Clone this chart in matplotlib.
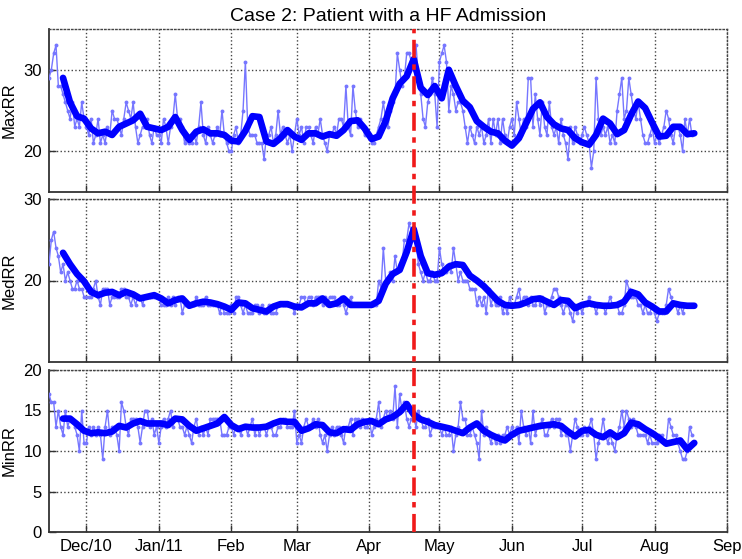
import matplotlib
matplotlib.use("Agg")
import matplotlib.pyplot as plt
import matplotlib.transforms as mtransforms
from matplotlib.lines import Line2D
import matplotlib.dates as mdates
import pandas as pd

plt.rcParams["font.family"] = ["Liberation Sans", "DejaVu Sans"]

TITLE = "Case 2: Patient with a HF Admission"
RAW_START = "2010-11-15"      # daily readings
SMOOTH_START = "2010-11-21"   # smoothed trend, every 3 days
EVENT_DATE = "2011-04-20"     # HF admission
XMIN, XMAX = "2010-11-15", "2011-09-01"

month_ticks = ["2010-12-01", "2011-01-01", "2011-02-01", "2011-03-01", "2011-04-01",
               "2011-05-01", "2011-06-01", "2011-07-01", "2011-08-01", "2011-09-01"]
month_labels = ["Dec/10", "Jan/11", "Feb", "Mar", "Apr", "May", "Jun", "Jul", "Aug", "Sep"]

maxrr_raw = [
    29, 30, 32, 33, 28, 28, 27, 26, 25, 24, 26, 23, 24, 23, 26, 24,                        # Nov
    23, 22, 24, 21, 22, 24, 21, 22, 21, 23, 22, 25, 24, 24, 23, 22, 24, 26, 25, 24,
    26, 23, 21, 22, 23, 23, 24, 22, 21, 23, 22,                                            # Dec
    22, 21, 24, 23, 21, 23, 24, 27, 24, 24, 23, 21, 22, 21, 21, 22, 21, 23, 26, 22,
    21, 23, 22, 21, 22, 23, 22, 25, 22, 21, 20,                                            # Jan
    20, 22, 23, 21, 22, 25, 31, 23, 22, 22, 22, 21, 21, 21, 19, 22, 22, 23, 21, 22,
    25, 22, 23, 22, 21, 22, 20, 22,                                                        # Feb
    24, 22, 23, 21, 23, 23, 22, 21, 23, 22, 24, 22, 21, 20, 22, 22, 23, 22, 24, 24,
    23, 28, 23, 22, 28, 25, 23, 24, 23, 22, 22,                                            # Mar
    22, 21, 21, 22, 23, 24, 26, 24, 23, 25, 26, 27, 32, 30, 28, 29, 32, 32, 31, 30,
    33, 29, 27, 24, 23, 26, 27, 29, 27, 23,                                                # Apr
    31, 32, 33, 31, 25, 28, 27, 25, 26, 26, 25, 23, 21, 23, 22, 21, 23, 22, 23, 21,
    22, 24, 21, 24, 22, 24, 21, 24, 22, 21, 23,                                            # May
    24, 22, 26, 24, 22, 24, 23, 29, 29, 23, 27, 24, 22, 26, 23, 22, 26, 23, 22, 23,
    21, 24, 22, 21, 19, 23, 21, 23, 22, 21,                                                # Jun
    22, 23, 22, 21, 18, 20, 29, 24, 22, 23, 22, 23, 21, 22, 21, 25, 27, 29, 24, 25,
    29, 27, 25, 24, 26, 24, 22, 21, 21, 22, 23,                                            # Jul
    21, 22, 21, 22, 23, 25, 24, 22, 21, 23, 23, 22, 20, 24, 22, 24, 22,                    # Aug
]
maxrr_smooth = [
    29.0, 26.0, 24.3, 24.0, 22.8, 22.2, 22.4, 22.0, 23.0, 23.4, 23.8, 24.6, 23.0, 22.8,
    22.6, 23.0, 24.2, 22.6, 21.4, 22.4, 22.7, 22.2, 22.2, 22.0, 21.3, 21.2, 22.5, 24.3,
    24.2, 21.2, 20.9, 21.6, 22.6, 21.8, 21.4, 22.2, 22.2, 21.8, 22.1, 21.9, 22.6, 23.7,
    23.8, 22.8, 21.5, 21.8, 23.7, 26.5, 28.3, 29.2, 31.3, 27.8, 26.9, 28.0, 26.5, 30.0,
    28.0, 26.2, 25.4, 23.7, 23.0, 22.4, 22.2, 21.3, 20.7, 21.6, 23.4, 25.2, 26.0, 24.2,
    23.3, 22.8, 22.6, 21.6, 21.1, 20.8, 22.0, 24.0, 23.4, 22.1, 22.6, 24.5, 26.1, 25.3,
    23.5, 21.8, 21.9, 23.0, 23.0, 22.1, 22.2,
]

medrr_raw = [
    22, 25, 26, 24, 23, 21, 22, 20, 21, 20, 19, 19, 20, 19, 19, 18,                        # Nov
    18, 18, 18, 19, 20, 18, 17, 19, 19, 19, 17, 18, 18, 18, 18, 19, 19, 18, 18, 17,
    18, 17, 18, 18, 17, 18, 18, 18, 18, 18, 18,                                            # Dec
    18, 17, 17, 17, 18, 17, 18, 17, 18, 18, 16, 17, 17, 17, 17, 17, 18, 17, 17, 17,
    18, 17, 17, 17, 17, 17, 16, 17, 16, 16, 16,                                            # Jan
    17, 16, 18, 18, 17, 16, 17, 16, 16, 16, 17, 17, 16, 17, 16, 16, 17, 16, 16, 16,
    17, 17, 17, 17, 17, 17, 17, 16,                                                        # Feb
    17, 17, 18, 18, 17, 18, 18, 17, 18, 18, 18, 17, 18, 17, 18, 18, 18, 17, 17, 18,
    17, 16, 17, 18, 17, 17, 17, 17, 17, 17, 17,                                            # Mar
    17, 17, 17, 17, 20, 19, 24, 20, 20, 21, 20, 23, 21, 22, 22, 25, 25, 27, 26, 26,
    25, 22, 21, 20, 21, 20, 20, 21, 20, 20,                                                # Apr
    24, 22, 21, 21, 22, 21, 24, 22, 20, 21, 20, 20, 20, 19, 19, 19, 17, 18, 17, 18,
    16, 19, 17, 18, 17, 17, 18, 16, 17, 16, 18,                                            # May
    17, 17, 18, 19, 17, 18, 18, 17, 18, 17, 17, 18, 17, 18, 16, 17, 17, 18, 19, 19,
    18, 17, 16, 17, 17, 16, 15, 17, 16, 17,                                                # Jun
    16, 17, 17, 18, 17, 17, 16, 17, 17, 17, 16, 17, 18, 17, 17, 17, 16, 16, 17, 20,
    19, 18, 18, 18, 17, 17, 16, 17, 16, 16, 17,                                            # Jul
    16, 15, 16, 16, 16, 17, 19, 18, 17, 17, 16, 17, 16, 17, 17, 17, 17,                    # Aug
]
medrr_smooth = [
    23.4, 22.0, 20.8, 19.9, 18.6, 18.2, 18.5, 18.6, 18.2, 18.6, 18.3, 17.8, 18.0, 18.2,
    17.8, 17.2, 17.6, 17.8, 16.9, 17.2, 17.4, 17.3, 17.1, 16.8, 16.4, 17.3, 17.2, 16.6,
    16.4, 16.2, 16.8, 17.1, 17.1, 16.8, 16.7, 17.2, 17.2, 17.8, 17.0, 17.2, 17.8, 17.0,
    17.0, 17.0, 17.0, 17.5, 19.6, 20.8, 21.3, 23.5, 26.3, 23.0, 20.9, 20.7, 20.9, 21.7,
    22.0, 21.9, 20.6, 20.0, 19.3, 18.4, 17.5, 17.0, 16.9, 17.0, 17.3, 17.7, 17.8, 17.4,
    17.0, 17.6, 17.5, 16.6, 17.0, 17.2, 17.0, 16.9, 16.9, 17.0, 17.4, 18.6, 18.3, 17.3,
    16.8, 16.2, 16.2, 17.2, 17.0, 16.9, 16.9,
]

minrr_raw = [
    17, 16, 16, 13, 15, 13, 12, 15, 13, 14, 14, 13, 12, 10, 15, 11,                        # Nov
    11, 13, 12, 13, 12, 13, 12, 9, 13, 15, 12, 13, 13, 12, 10, 16, 15, 13, 12, 14,
    14, 14, 13, 11, 13, 15, 15, 13, 14, 12, 13,                                            # Dec
    11, 13, 14, 13, 14, 15, 13, 14, 14, 13, 13, 12, 13, 12, 11, 13, 14, 12, 13, 12,
    13, 12, 14, 14, 14, 14, 14, 12, 12, 12, 13,                                            # Jan
    13, 12, 13, 13, 12, 13, 13, 12, 13, 14, 12, 13, 12, 13, 13, 12, 13, 13, 12, 12,
    13, 13, 14, 14, 13, 13, 13, 15,                                                        # Feb
    11, 12, 11, 13, 14, 13, 13, 14, 13, 14, 12, 11, 12, 10, 12, 13, 12, 13, 13, 12,
    11, 13, 13, 14, 12, 14, 14, 13, 14, 13, 13,                                            # Mar
    14, 12, 13, 14, 16, 13, 14, 15, 14, 15, 14, 18, 13, 17, 15, 16, 14, 13, 14, 14,
    13, 15, 14, 13, 13, 14, 12, 13, 13, 13,                                                # Apr
    13, 12, 13, 12, 12, 13, 10, 12, 13, 16, 14, 14, 12, 12, 13, 12, 11, 9, 15, 12,
    13, 12, 11, 12, 11, 12, 11, 12, 12, 13, 12,                                            # May
    13, 12, 13, 11, 15, 13, 12, 13, 11, 15, 12, 13, 13, 14, 12, 12, 13, 14, 13, 14,
    14, 12, 13, 12, 12, 10, 12, 14, 13, 12,                                                # Jun
    12, 13, 12, 13, 14, 12, 9, 11, 12, 14, 12, 11, 12, 11, 10, 12, 13, 15, 13, 15,
    14, 13, 14, 13, 12, 12, 12, 12, 11, 12, 11,                                            # Jul
    11, 11, 12, 12, 11, 11, 14, 13, 12, 12, 11, 10, 9, 9, 10, 13, 12,                      # Aug
]
minrr_smooth = [
    14.0, 14.0, 13.3, 12.5, 12.2, 12.3, 12.2, 12.4, 13.1, 12.9, 13.4, 13.7, 13.4, 13.4,
    13.4, 13.2, 14.0, 13.9, 13.1, 12.5, 12.8, 13.1, 13.4, 14.2, 13.2, 12.7, 13.0, 12.9,
    12.9, 13.0, 13.4, 13.7, 13.6, 13.6, 12.5, 12.8, 13.3, 13.2, 12.3, 12.2, 12.7, 12.6,
    13.3, 13.6, 13.7, 13.3, 13.9, 14.2, 14.8, 15.8, 14.5, 13.9, 13.6, 13.2, 13.0, 12.8,
    12.5, 12.2, 12.9, 13.4, 12.5, 12.0, 11.6, 11.3, 12.0, 12.5, 12.7, 12.9, 13.1, 13.2,
    13.3, 13.1, 12.4, 11.8, 12.5, 12.6, 12.0, 11.7, 12.3, 11.7, 12.2, 13.5, 13.3, 12.7,
    12.2, 11.6, 10.9, 11.1, 11.3, 10.2, 11.0,
]

panels = [
    ("MaxRR", maxrr_raw, maxrr_smooth, (15, 35), [20, 30]),
    ("MedRR", medrr_raw, medrr_smooth, (10, 30), [20, 30]),
    ("MinRR", minrr_raw, minrr_smooth, (0, 20), [0, 5, 10, 15, 20]),
]

W, H = 742, 559
left, right = 49, 727
boxes = [(29, 192), (199, 362), (370, 532)]   # top/bottom pixel rows of each panel

fig = plt.figure(figsize=(W / 100, H / 100), dpi=100)
tick_dates = pd.to_datetime(month_ticks)

axes = []
for (name, raw, smooth, ylim, yticks), (top, bot) in zip(panels, boxes):
    ax = fig.add_axes([left / W, 1 - bot / H, (right - left) / W, (bot - top) / H])
    raw_dates = pd.date_range(RAW_START, periods=len(raw), freq="D")
    sm_dates = pd.date_range(SMOOTH_START, periods=len(smooth), freq="3D")
    ax.plot(raw_dates, raw, "-o", color="#7676ff", lw=1.0, ms=2.8, mew=0, zorder=3)
    ax.plot(sm_dates, smooth, color="#0000ff", lw=4.8, solid_capstyle="round",
            solid_joinstyle="round", zorder=4)
    ax.set_xlim(pd.Timestamp(XMIN), pd.Timestamp(XMAX))
    ax.set_ylim(*ylim)
    ax.set_yticks(yticks)
    ax.set_xticks(tick_dates)
    ax.set_xticklabels(month_labels)
    ax.grid(True, linestyle=":", color="#444444", linewidth=1.0)
    ax.tick_params(direction="in", length=5, width=1.0, labelsize=12, color="#333333", pad=5)
    ax.set_ylabel(name, fontsize=12)
    ax.yaxis.set_label_coords(-0.048, 0.5)
    for s in ("left", "bottom"):
        ax.spines[s].set_color("#333333")
        ax.spines[s].set_linewidth(1.3)
    for s in ("top", "right"):
        ax.spines[s].set_linestyle(":")
        ax.spines[s].set_color("#444444")
        ax.spines[s].set_linewidth(1.0)
    axes.append(ax)

for ax in axes[:-1]:
    ax.tick_params(labelbottom=False)

axes[0].set_title(TITLE, fontsize=14, pad=6)

# admission marker running through all three panels (drawn above every axes)
trans = mtransforms.blended_transform_factory(axes[0].transData, fig.transFigure)
x_event = mdates.date2num(pd.Timestamp(EVENT_DATE))
fig.add_artist(Line2D([x_event, x_event], [1 - boxes[-1][1] / H, 1 - boxes[0][0] / H],
                      transform=trans, color="#f01a1a", lw=2.6,
                      linestyle=(0, (5, 1.8, 1.5, 1.8)), zorder=10))

fig.savefig("out.png", dpi=100)
